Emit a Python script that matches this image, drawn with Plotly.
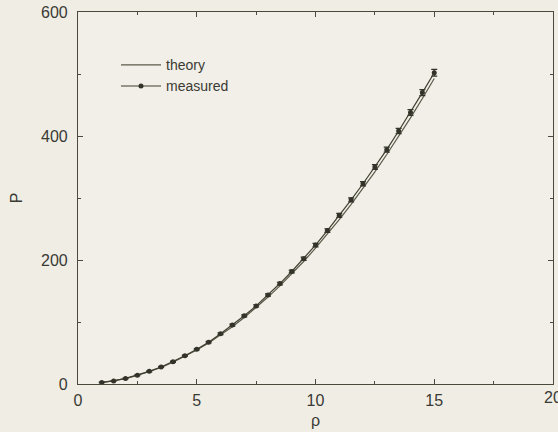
import plotly.graph_objects as go

rho = [1.0, 1.5, 2.0, 2.5, 3.0, 3.5, 4.0, 4.5, 5.0, 5.5, 6.0, 6.5, 7.0, 7.5,
       8.0, 8.5, 9.0, 9.5, 10.0, 10.5, 11.0, 11.5, 12.0, 12.5, 13.0, 13.5,
       14.0, 14.5, 15.0]
p_theory = [2.2, 4.9, 8.8, 13.7, 19.7, 26.8, 35.0, 44.3, 54.7, 66.2, 78.8,
            92.5, 107.3, 123.2, 140.2, 158.2, 177.4, 197.6, 219.0, 241.4,
            265.0, 289.6, 315.4, 342.2, 370.1, 399.1, 429.2, 460.4, 492.8]
p_measured = [2.5, 5.0, 9.0, 14.3, 20.4, 27.5, 36.0, 45.5, 56.0, 67.5, 81.0,
              95.0, 110.0, 126.0, 143.5, 162.0, 181.5, 202.0, 224.0, 247.5,
              272.0, 297.0, 323.0, 350.0, 378.0, 408.0, 438.0, 470.0, 502.0]
p_error = [0.5, 0.5, 0.6, 0.7, 0.8, 0.9, 1.0, 1.1, 1.2, 1.3, 1.4, 1.5, 1.6,
           1.8, 1.9, 2.1, 2.3, 2.5, 2.7, 2.9, 3.1, 3.3, 3.5, 3.8, 4.0, 4.3,
           4.6, 4.9, 5.3]

x_ticks = [0, 5, 10, 15, 20]
y_ticks = [0, 200, 400, 600]

ink = "#4a4a3c"
txt = "#3a3a34"
font_family = "Liberation Sans, Arial, sans-serif"

fig = go.Figure()
fig.add_trace(go.Scatter(
    x=rho, y=p_theory, mode="lines", name="theory",
    line=dict(color="#5a5a4a", width=1.2),
))
fig.add_trace(go.Scatter(
    x=rho, y=p_measured, mode="lines+markers", name="measured",
    line=dict(color="#3f3f30", width=1.2),
    marker=dict(color="#33332a", size=5),
    error_y=dict(type="data", array=p_error, visible=True,
                 color="#33332a", thickness=1.2, width=3),
))

axis_common = dict(
    showline=True, linecolor=ink, linewidth=1.2, mirror="ticks",
    ticks="inside", ticklen=5, tickwidth=1, tickcolor=ink,
    showgrid=False, zeroline=False,
    tickfont=dict(family=font_family, size=16, color=txt),
    title_font=dict(family=font_family, size=16, color=txt),
)

fig.update_xaxes(
    range=[0, 20], tickvals=x_ticks[:-1], ticktext=[str(v) for v in x_ticks[:-1]],
    title_text="ρ", title_standoff=6,
    minor=dict(ticks="inside", ticklen=3, tickvals=[2.5, 7.5, 12.5, 17.5],
               tickcolor=ink),
    ticklabelstandoff=2,
    **axis_common,
)
fig.update_yaxes(
    range=[0, 600], tickvals=y_ticks, ticktext=[str(v) for v in y_ticks],
    title_text="P", title_standoff=14,
    minor=dict(ticks="inside", ticklen=3, tickvals=[100, 300, 500],
               tickcolor=ink),
    ticklabelstandoff=6,
    **axis_common,
)

# the last x tick label sits at the page edge and is cut off, as in the source
fig.add_annotation(
    x=x_ticks[-1], y=0, xref="x", yref="paper", yanchor="top", xanchor="center",
    yshift=-3, text=str(x_ticks[-1]), showarrow=False,
    font=dict(family=font_family, size=16, color=txt),
)

fig.update_layout(
    width=558, height=432,
    margin=dict(l=78, r=5, t=12, b=48),
    paper_bgcolor="#efede4", plot_bgcolor="#f1efe7",
    showlegend=True,
    legend=dict(
        x=0.08, y=0.9, xanchor="left", yanchor="top",
        bgcolor="rgba(0,0,0,0)", itemwidth=40,
        font=dict(family=font_family, size=14, color=txt),
        tracegroupgap=0,
    ),
)

fig.write_html("out.html")
